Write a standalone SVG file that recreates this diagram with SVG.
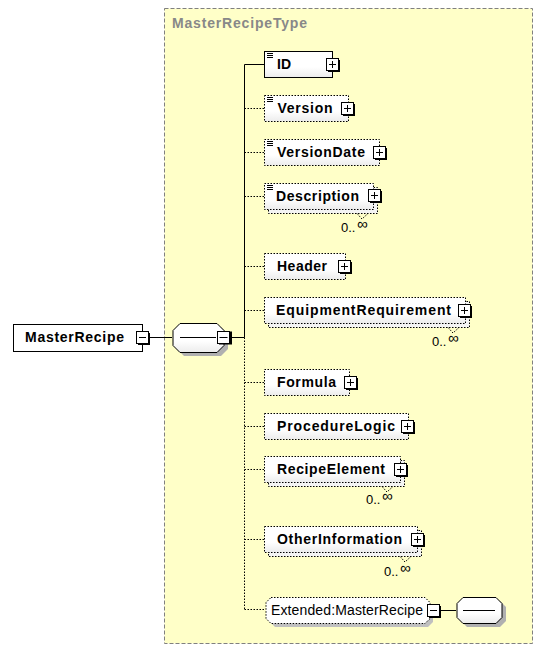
<svg xmlns="http://www.w3.org/2000/svg" width="545" height="652" viewBox="0 0 545 652">
<defs>
<linearGradient id="bg" x1="0" y1="0" x2="0" y2="1"><stop offset="0" stop-color="#ffffff"/><stop offset="0.6" stop-color="#ffffff"/><stop offset="1" stop-color="#ececec"/></linearGradient>
<g id="plus"><rect x="1.5" y="1.5" width="12" height="12" fill="#000"/><rect x="0" y="0" width="12" height="12" fill="#fff" stroke="#000" stroke-width="1"/><path d="M2.5 6H9.5M6 2.5V9.5" stroke="#000" stroke-width="1"/></g>
<g id="minus"><rect x="1.5" y="1.5" width="12" height="12" fill="#000"/><rect x="0" y="0" width="12" height="12" fill="#fff" stroke="#000" stroke-width="1"/><path d="M2.5 6H9.5" stroke="#000" stroke-width="1"/></g>
<g id="simple"><path d="M3 2.5H9M3 4.5H9M3 6.5H9" stroke="#000" stroke-width="1"/></g>
</defs>
<style>
.req{fill:url(#bg);stroke:#000;stroke-width:1}
.opt{fill:url(#bg);stroke:#000;stroke-width:1;stroke-dasharray:1.5,1.5}
.back{fill:#f4f4f4;stroke:#000;stroke-width:1;stroke-dasharray:1.5,1.5}
.lbl{font-family:"Liberation Sans",Arial,sans-serif;font-weight:bold;font-size:14px;fill:#000}
.card{font-family:"Liberation Sans",Arial,sans-serif;font-size:13px;fill:#000}
.inf{font-family:"Liberation Sans",Arial,sans-serif;font-size:15px;fill:#000}
.solid{stroke:#000;stroke-width:1;fill:none}
.dot{stroke:#000;stroke-width:1;fill:none;stroke-dasharray:1.5,1.5}
</style>
<rect x="0" y="0" width="545" height="652" fill="#fff"/>
<g id="MasterRecipeType">
<rect x="164.5" y="8.5" width="368" height="635" fill="#ffffc8" stroke="#808080" stroke-width="1" stroke-dasharray="4,2"/>
<text x="172" y="28" style="font-family:'Liberation Sans',Arial,sans-serif;font-weight:bold;font-size:14px;fill:#888" textLength="135" lengthAdjust="spacing">MasterRecipeType</text>
</g>
<g id="connectors">
<path class="solid" d="M150 337.5H172M232 337.5H244.5M244.5 64.5V337.5M244.5 64.5H264"/>
<path class="dot" d="M244.5 337.5V609.5M244.5 108.5H264M244.5 152.5H264M244.5 196.5H264M244.5 266.5H264M244.5 310.5H264M244.5 382.5H264M244.5 426.5H264M244.5 469.5H264M244.5 539.5H264M244.5 609.5H264"/>
<path class="solid" d="M440 610.5H456"/>
</g>
<g id="MasterRecipe">
<rect class="req" x="13.5" y="324.5" width="129" height="27" style="fill:#fff"/>
<text class="lbl" x="25" y="342" textLength="99" lengthAdjust="spacing">MasterRecipe</text>
<use href="#minus" x="136.5" y="331.5"/>
</g>
<g id="sequence">
<path d="M184 327H221L228 334V349L221 356H184L177 349V334Z" fill="#b0b0b0"/>
<path d="M180 323.5H217L224 330.5V345.5L217 352.5H180L173 345.5V330.5Z" fill="url(#bg)" stroke="#000" stroke-width="1"/>
<path class="solid" d="M180 337.5H216"/>
<rect x="219" y="331.5" width="13" height="13" fill="#000"/>
<rect x="217.5" y="331.5" width="12" height="12" fill="#fff" stroke="#000"/>
<path d="M219.5 337.5H227.5" stroke="#000"/>
</g>
<g id="ID">
<rect class="req" x="264.5" y="51.5" width="68" height="26"/>
<use href="#simple" x="264" y="51"/>
<text class="lbl" x="277" y="69" textLength="14" lengthAdjust="spacing">ID</text>
<use href="#plus" x="326.5" y="58.5"/>
</g>
<g id="Version">
<rect class="opt" x="264.5" y="95.5" width="84" height="26"/>
<use href="#simple" x="264" y="95"/>
<text class="lbl" x="277.5" y="113" textLength="55" lengthAdjust="spacing">Version</text>
<use href="#plus" x="341.5" y="102.5"/>
</g>
<g id="VersionDate">
<rect class="opt" x="264.5" y="139.5" width="115" height="26"/>
<use href="#simple" x="264" y="139"/>
<text class="lbl" x="277" y="157" textLength="88" lengthAdjust="spacing">VersionDate</text>
<use href="#plus" x="373.5" y="146.5"/>
</g>
<g id="Description">
<rect class="back" x="268.5" y="187.5" width="109" height="26"/>
<rect class="opt" x="264.5" y="183.5" width="109" height="26"/>
<use href="#simple" x="264" y="183"/>
<text class="lbl" x="276" y="201" textLength="83" lengthAdjust="spacing">Description</text>
<use href="#plus" x="368.5" y="189.5"/>
<path class="dot" d="M357 213.5L362 219L368 213.5"/>
<text class="card" x="341" y="232">0..</text><text class="inf" x="357" y="229">∞</text>
</g>
<g id="Header">
<rect class="opt" x="264.5" y="253.5" width="81" height="26"/>
<text class="lbl" x="277" y="271" textLength="50" lengthAdjust="spacing">Header</text>
<use href="#plus" x="338.5" y="260.5"/>
</g>
<g id="EquipmentRequirement">
<rect class="back" x="268.5" y="301.5" width="201" height="26"/>
<rect class="opt" x="264.5" y="297.5" width="201" height="26"/>
<text class="lbl" x="276" y="315" textLength="175" lengthAdjust="spacing">EquipmentRequirement</text>
<use href="#plus" x="458.5" y="304.5"/>
<path class="dot" d="M448 327.5L453 333L459 327.5"/>
<text class="card" x="432" y="346">0..</text><text class="inf" x="448" y="343">∞</text>
</g>
<g id="Formula">
<rect class="opt" x="264.5" y="369.5" width="85" height="26"/>
<text class="lbl" x="277" y="387" textLength="59" lengthAdjust="spacing">Formula</text>
<use href="#plus" x="344.5" y="376.5"/>
</g>
<g id="ProcedureLogic">
<rect class="opt" x="264.5" y="413.5" width="144" height="26"/>
<text class="lbl" x="277" y="431" textLength="118" lengthAdjust="spacing">ProcedureLogic</text>
<use href="#plus" x="401.5" y="420.5"/>
</g>
<g id="RecipeElement">
<rect class="back" x="268.5" y="460.5" width="136" height="26"/>
<rect class="opt" x="264.5" y="456.5" width="136" height="26"/>
<text class="lbl" x="277" y="474" textLength="108" lengthAdjust="spacing">RecipeElement</text>
<use href="#plus" x="394.5" y="463.5"/>
<path class="dot" d="M382 486.5L387 492L393 486.5"/>
<text class="card" x="366" y="504">0..</text><text class="inf" x="382" y="501">∞</text>
</g>
<g id="OtherInformation">
<rect class="back" x="268.5" y="530.5" width="153" height="26"/>
<rect class="opt" x="264.5" y="526.5" width="153" height="26"/>
<text class="lbl" x="277" y="544" textLength="125" lengthAdjust="spacing">OtherInformation</text>
<use href="#plus" x="411.5" y="533.5"/>
<path class="dot" d="M400 556.5L405 562L411 556.5"/>
<text class="card" x="384" y="576">0..</text><text class="inf" x="400" y="573">∞</text>
</g>
<g id="Extended">
<path d="M275 601H428L433 606V622L428 627H275L270 622V606Z" fill="#c0c0c0"/>
<path class="opt" d="M271 597.5H425L430 602.5V618.5L425 623.5H271L266 618.5V602.5Z" style="fill:#fff"/>
<text x="271" y="615" style="font-family:'Liberation Sans',Arial,sans-serif;font-size:14px;fill:#000" textLength="152" lengthAdjust="spacing">Extended:MasterRecipe</text>
<use href="#minus" x="427.5" y="604.5"/>
</g>
<g id="sequence2">
<path d="M467 601H500L506 607V621L500 627H467L461 621V607Z" fill="#b0b0b0"/>
<path d="M463 597.5H496L502 603.5V617.5L496 623.5H463L457 617.5V603.5Z" fill="url(#bg)" stroke="#000" stroke-width="1"/>
<path class="solid" d="M463 610.5H495"/>
</g>
</svg>
